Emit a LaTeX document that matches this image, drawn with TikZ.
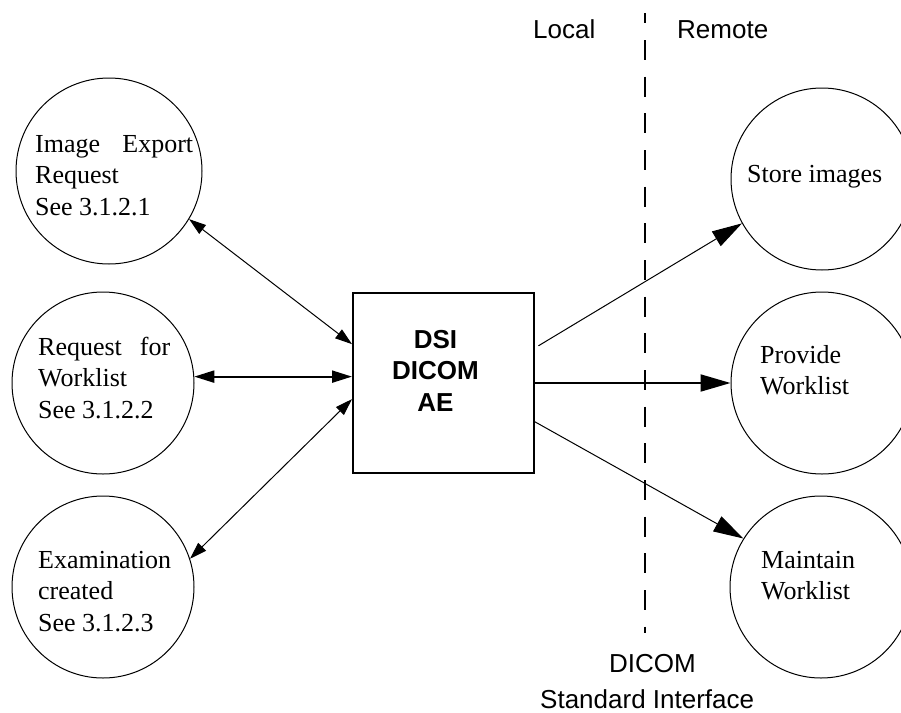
\documentclass[tikz,border=0pt]{standalone}
\usepackage{fontspec}
\setmainfont{Liberation Serif}
\setsansfont{Liberation Sans}
\usetikzlibrary{arrows.meta,calc}
\newcommand\txtsz{\fontsize{26}{31.7}\selectfont}
\begin{document}
\begin{tikzpicture}[x=1pt,y=-1pt,
  proc/.style={circle,draw,line width=1pt,minimum size=182pt,inner sep=0pt},
  aebox/.style={rectangle,draw,line width=2pt,minimum width=181pt,minimum height=180pt,inner sep=0pt},
  ctext/.style={anchor=base west,inner sep=0pt,font=\txtsz},
  lab/.style={anchor=base west,inner sep=0pt,font=\txtsz\sffamily},
  smallarr/.style={line width=1pt,{Triangle[length=17pt,width=11pt]}-{Triangle[length=17pt,width=11pt]}},
  medarr/.style={line width=2pt,{Triangle[length=20pt,width=12pt]}-{Triangle[length=20pt,width=12pt]}},
  bigarr/.style={line width=1pt,-{Triangle[length=30pt,width=17pt]}},
  bigthickarr/.style={line width=2pt,-{Triangle[length=30pt,width=17pt]}}
]
\useasboundingbox (0,0) rectangle (901,712);
\fill[white] (0,0) rectangle (901,712);
\clip (0,0) rectangle (901,712);

% local processes
\node[proc,minimum size=186pt] (c1) at (109,171) {};
\node[proc] (c2) at (103,383) {};
\node[proc] (c3) at (103,587) {};
\node[ctext] (t1) at (35,152) {\begin{tabular}[t]{@{}l@{}}\makebox[158pt][s]{Image Export}\\ Request\\ See 3.1.2.1\end{tabular}};
\node[ctext] (t2) at (38,355) {\begin{tabular}[t]{@{}l@{}}\makebox[132pt][s]{Request for}\\ Worklist\\ See 3.1.2.2\end{tabular}};
\node[ctext] (t3) at (38,568) {\begin{tabular}[t]{@{}l@{}}Examination\\ created\\ See 3.1.2.3\end{tabular}};

% application entity
\node[aebox] (box) at (443.5,383) {};
\node[anchor=base,inner sep=0pt,font=\txtsz\sffamily\bfseries] (aetext) at (435.5,348) {\begin{tabular}[t]{@{}c@{}}DSI\\ DICOM\\ AE\end{tabular}};

% remote processes
\node[proc] (s1) at (822,179) {};
\node[proc] (s2) at (822,383) {};
\node[proc] (s3) at (821,587) {};
\node[ctext] (u1) at (747,182) {Store images};
\node[ctext] (u2) at (760,363) {\begin{tabular}[t]{@{}l@{}}Provide\\ Worklist\end{tabular}};
\node[ctext] (u3) at (761,568) {\begin{tabular}[t]{@{}l@{}}Maintain\\ Worklist\end{tabular}};

% interface line
\coordinate (dtop) at (645,13);
\coordinate (dbot) at (645,633);
\draw[line width=2pt,dash pattern=on 20pt off 16.67pt,dash phase=9.67pt] (dtop) -- (dbot);
\node[lab] (local) at (533,38) {Local};
\node[lab] (remote) at (677,38) {Remote};
\node[lab] (dicom) at (609,672) {DICOM};
\node[lab] (std) at (540,708) {Standard Interface};

% connectors
\draw[smallarr] (c1.-31) -- (box.157);
\draw[medarr] (c2.4) -- (c2.4 -| box.west);
\draw[smallarr] (c3.18) -- (box.-170);
\draw[bigarr,shorten <=4pt] (box.21) -- (s1.-151);
\draw[bigthickarr] (box.east) -- (s2.west);
\draw[bigarr] (box.-23) -- (s3.148);
\end{tikzpicture}
\end{document}
